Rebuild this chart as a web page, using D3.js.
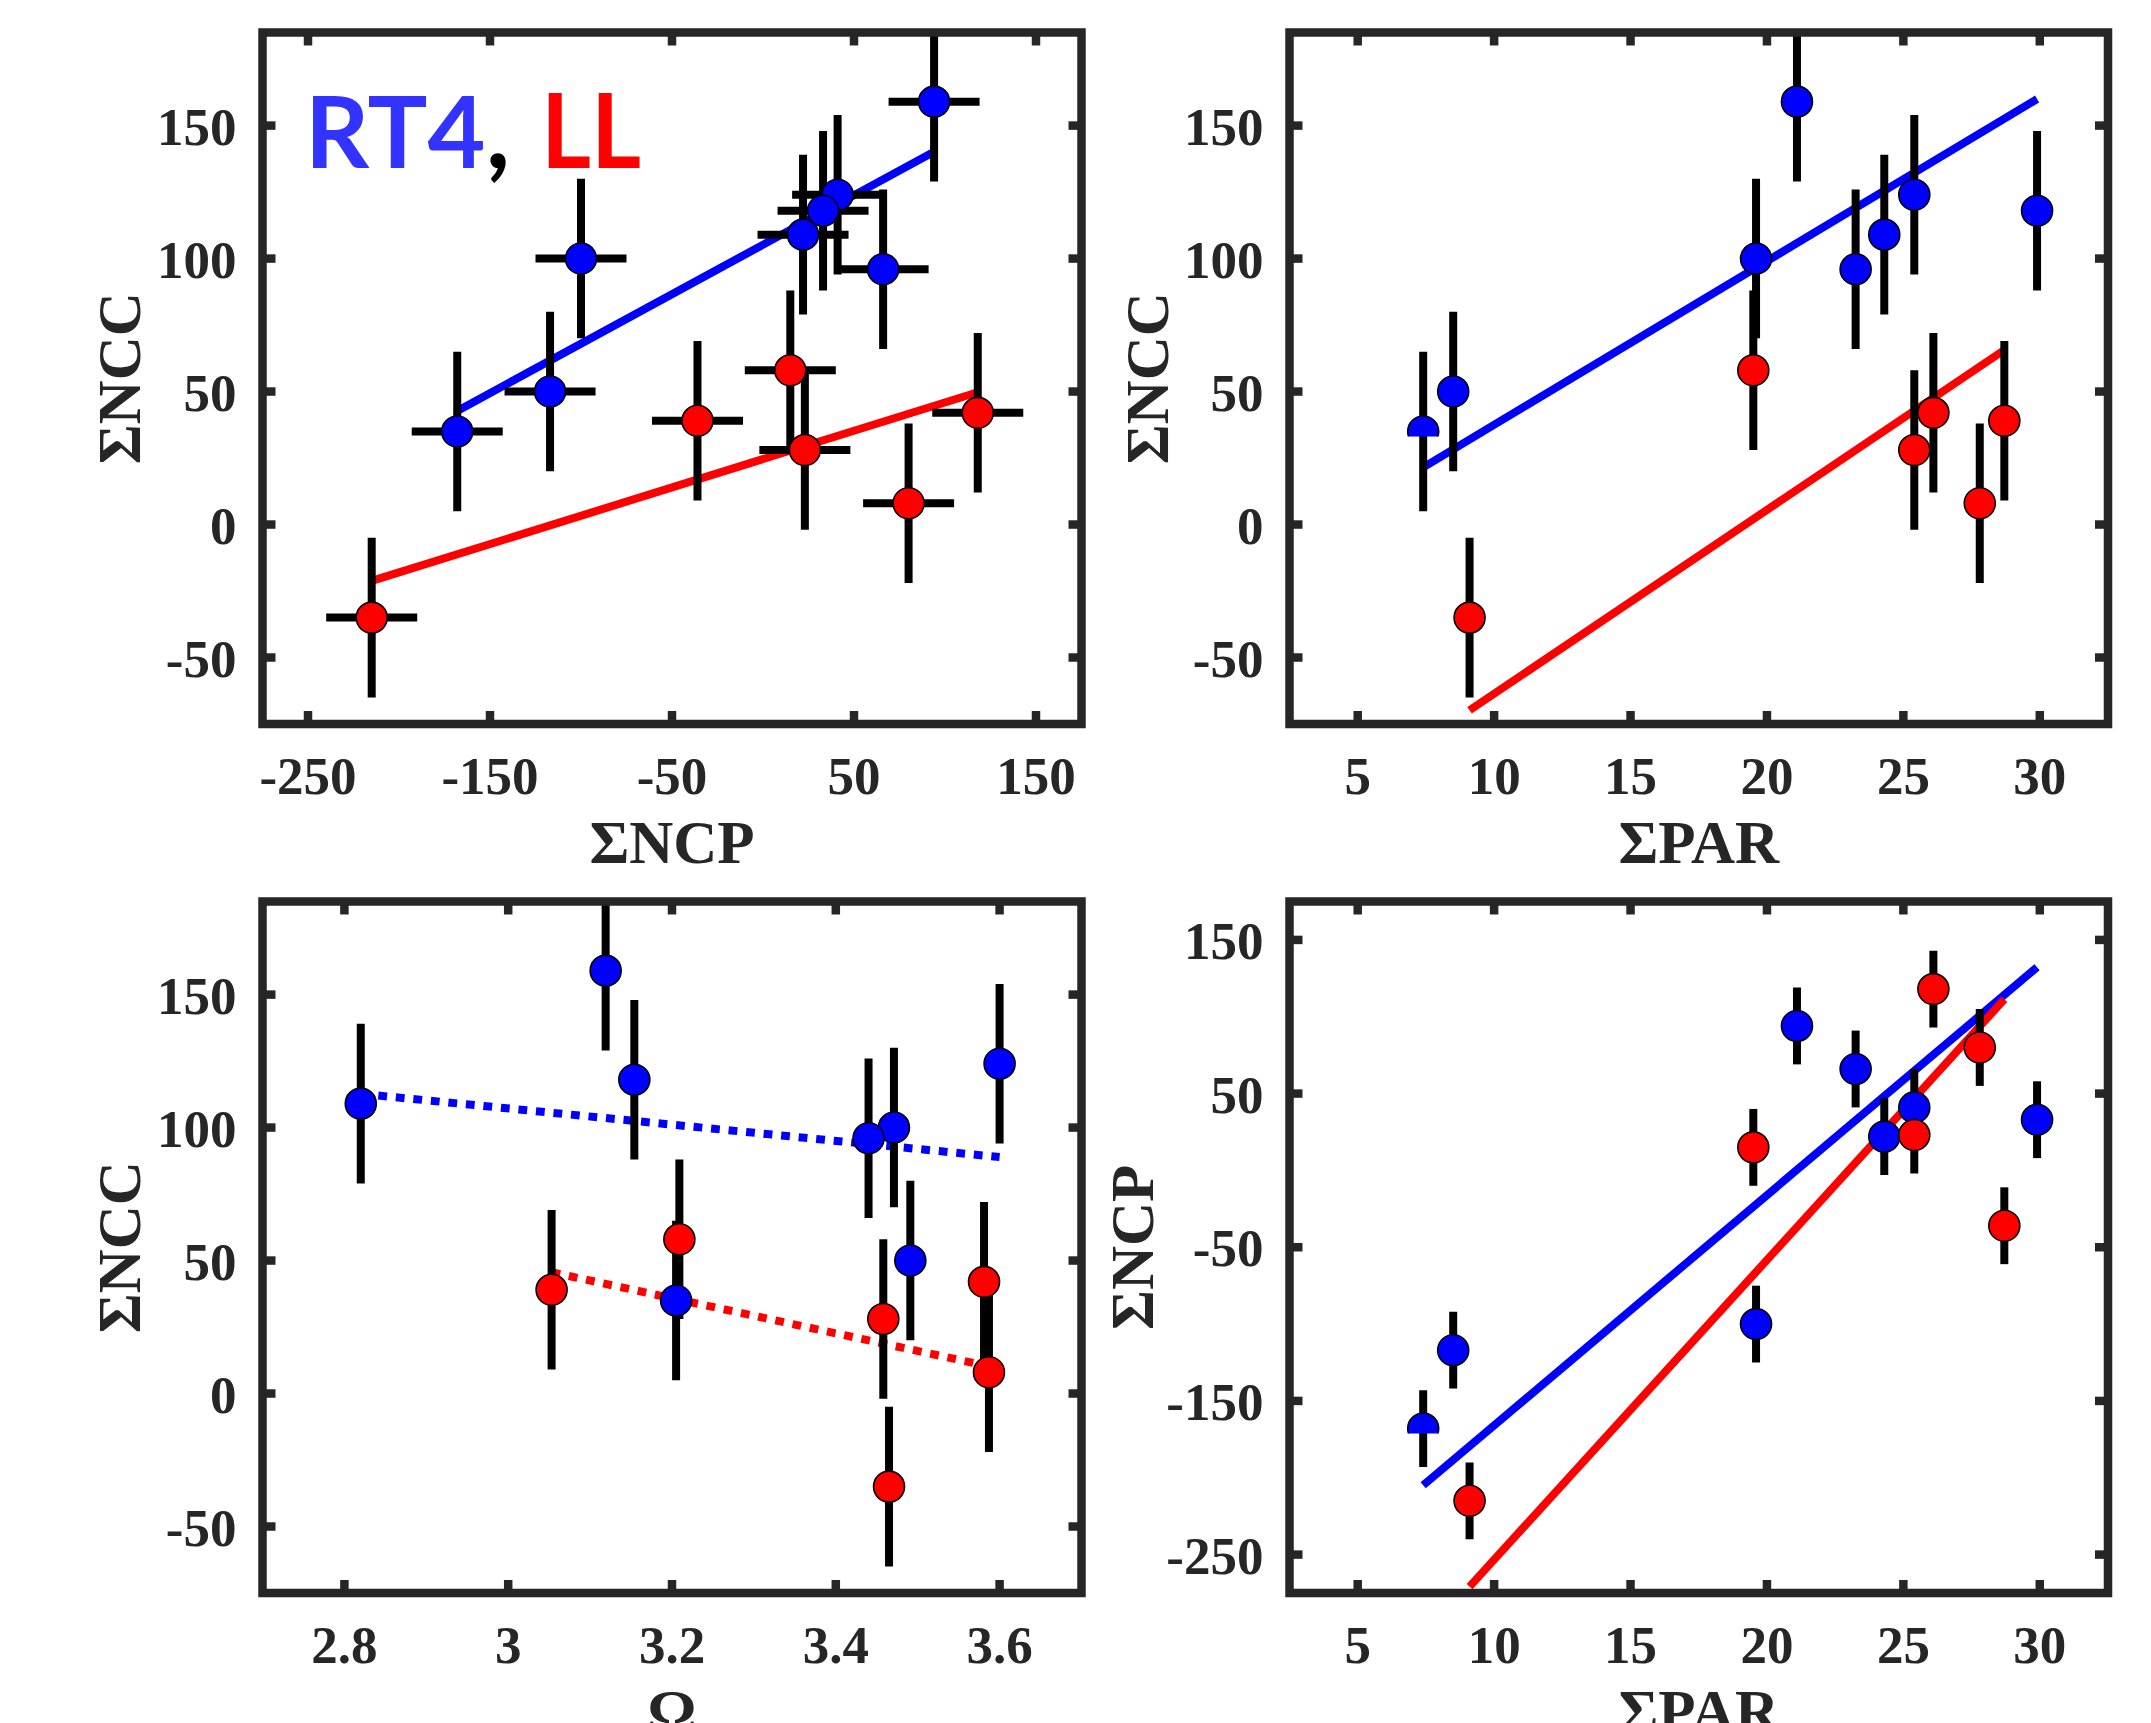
<!DOCTYPE html>
<html>
<head>
<meta charset="utf-8">
<script src="https://cdn.jsdelivr.net/npm/d3@7/dist/d3.min.js"></script>
<style>
  html, body { margin: 0; padding: 0; background: #fff; }
  svg { display: block; }
</style>
</head>
<body>
<svg id="fig" width="2151" height="1723"></svg>
<script>
// RT4 samples (blue)
const rt4PAR   = [7.4, 8.5, 19.6, 21.1, 23.25, 24.3, 25.4, 29.9];
const rt4NCP   = [-168, -117, -100, 94, 66, 22, 41, 33];
const rt4NCC   = [35, 50, 100, 159, 96, 109, 124, 118];
const rt4Omega = [3.205, 3.491, 3.471, 3.119, 3.44, 2.82, 3.6, 3.154];

// LL samples (red)
const llPAR   = [9.1, 19.5, 25.4, 26.1, 27.8, 28.7];
const llNCP   = [-215, 15, 23, 118, 80, -36];
const llNCC   = [-35, 58, 28, 42, 8, 39];
const llOmega = [3.465, 3.209, 3.458, 3.581, 3.587, 3.053];

// uncertainties
const NCP_ERR = 25;
const NCC_ERR = 30;

// fitted lines [slope, intercept] for panels a, b, c, d
const rt4Fits = [[0.372, 105.2], [6.156, -24.07], [-30.5, 198.7], [14.98, -315.7]];
const llFits  = [[0.213, 24.6], [6.91, -132.7], [-66.2, 247.7], [19.5, -448.3]];

// axis ticks
const ncpTicks   = [-250, -150, -50, 50, 150];
const nccTicks   = [-50, 0, 50, 100, 150];
const parTicks   = [5, 10, 15, 20, 25, 30];
const omegaTicks = [2.8, 3, 3.2, 3.4, 3.6];

const BLUE = "#0000ff", RED = "#ff0000", AX = "#262626";

const svg = d3.select("#fig");
svg.append("rect").attr("width", 2151).attr("height", 1723).attr("fill", "#fff");
const defs = svg.append("defs");

const panels = [
  { id: "a", box: [262.5, 1081.5, 32.5, 724], xDom: [-275, 175], yDom: [-75, 185],
    xTicks: ncpTicks, yTicks: nccTicks, xLab: "ΣNCP", yLab: "ΣNCC", yLabX: 140,
    rt4: [rt4NCP, rt4NCC], ll: [llNCP, llNCC], xErr: NCP_ERR, yErr: NCC_ERR, fit: 0, dotted: false },
  { id: "b", box: [1289.5, 2108, 32.5, 724], xDom: [2.5, 32.5], yDom: [-75, 185],
    xTicks: parTicks, yTicks: nccTicks, xLab: "ΣPAR", yLab: "ΣNCC", yLabX: 1167.5,
    rt4: [rt4PAR, rt4NCC], ll: [llPAR, llNCC], xErr: 0, yErr: NCC_ERR, fit: 1, dotted: false, half: true },
  { id: "c", box: [262.5, 1081.5, 901.5, 1593], xDom: [2.7, 3.7], yDom: [-75, 185],
    xTicks: omegaTicks, yTicks: nccTicks, xLab: "Ω", yLab: "ΣNCC", yLabX: 140,
    rt4: [rt4Omega, rt4NCC], ll: [llOmega, llNCC], xErr: 0, yErr: NCC_ERR, fit: 2, dotted: true },
  { id: "d", box: [1289.5, 2108, 901.5, 1593], xDom: [2.5, 32.5], yDom: [-275, 175],
    xTicks: parTicks, yTicks: ncpTicks, xLab: "ΣPAR", yLab: "ΣNCP", yLabX: 1153,
    rt4: [rt4PAR, rt4NCP], ll: [llPAR, llNCP], xErr: 0, yErr: NCP_ERR, fit: 3, dotted: false, half: true }
];

const serif = "'Liberation Serif', 'Times New Roman', serif";

panels.forEach(p => {
  const [x0, x1, y0, y1] = p.box;
  const x = d3.scaleLinear().domain(p.xDom).range([x0, x1]);
  const y = d3.scaleLinear().domain(p.yDom).range([y1, y0]);

  defs.append("clipPath").attr("id", "clip-" + p.id)
    .append("rect").attr("x", x0).attr("y", y0).attr("width", x1 - x0).attr("height", y1 - y0);

  const g = svg.append("g").attr("clip-path", `url(#clip-${p.id})`);

  // fitted lines spanning each series' range
  const series = [
    { xs: p.rt4[0], ys: p.rt4[1], color: BLUE, fit: rt4Fits[p.fit], name: "rt4" },
    { xs: p.ll[0],  ys: p.ll[1],  color: RED,  fit: llFits[p.fit],  name: "ll" }
  ];
  series.forEach(s => {
    const lo = d3.min(s.xs), hi = d3.max(s.xs);
    const [m, b] = s.fit;
    const line = d3.line().x(d => x(d)).y(d => y(m * d + b));
    g.append("path").datum([lo, hi]).attr("d", line)
      .attr("fill", "none").attr("stroke", s.color).attr("stroke-width", 8)
      .attr("stroke-dasharray", p.dotted ? "8.8 8.8" : null);
  });

  // error bars
  series.forEach(s => {
    s.xs.forEach((xv, i) => {
      const yv = s.ys[i];
      g.append("line").attr("x1", x(xv)).attr("x2", x(xv))
        .attr("y1", y(yv - p.yErr)).attr("y2", y(yv + p.yErr))
        .attr("stroke", "#000").attr("stroke-width", 8);
      if (p.xErr) {
        g.append("line").attr("x1", x(xv - p.xErr)).attr("x2", x(xv + p.xErr))
          .attr("y1", y(yv)).attr("y2", y(yv))
          .attr("stroke", "#000").attr("stroke-width", 8);
      }
    });
  });

  // markers
  series.forEach(s => {
    s.xs.forEach((xv, i) => {
      const cx = x(xv), cy = y(s.ys[i]);
      const c = g.append("circle").attr("cx", cx).attr("cy", cy).attr("r", 15.5)
        .attr("fill", s.color).attr("stroke", "#000").attr("stroke-width", 1.6);
      // lowest-PAR RT4 marker shows only its upper part
      if (p.half && s.name === "rt4" && i === 0) {
        const cid = "half-" + p.id;
        defs.append("clipPath").attr("id", cid)
          .append("rect").attr("x", cx - 20).attr("y", cy - 20).attr("width", 40).attr("height", 25);
        c.attr("clip-path", `url(#${cid})`);
      }
    });
  });

  // box
  svg.append("rect").attr("x", x0).attr("y", y0).attr("width", x1 - x0).attr("height", y1 - y0)
    .attr("fill", "none").attr("stroke", AX).attr("stroke-width", 8.5);

  // ticks on all four sides (inward)
  const T = 13;
  p.xTicks.forEach(t => {
    const xp = x(t);
    svg.append("line").attr("x1", xp).attr("x2", xp).attr("y1", y1).attr("y2", y1 - T)
      .attr("stroke", AX).attr("stroke-width", 8.5);
    svg.append("line").attr("x1", xp).attr("x2", xp).attr("y1", y0).attr("y2", y0 + T)
      .attr("stroke", AX).attr("stroke-width", 8.5);
    svg.append("text").attr("x", xp).attr("y", y1 + 69.5)
      .attr("text-anchor", "middle").attr("font-family", serif).attr("font-weight", "bold")
      .attr("font-size", 53).attr("fill", AX).text(String(t));
  });
  p.yTicks.forEach(t => {
    const yp = y(t);
    svg.append("line").attr("x1", x0).attr("x2", x0 + T).attr("y1", yp).attr("y2", yp)
      .attr("stroke", AX).attr("stroke-width", 8.5);
    svg.append("line").attr("x1", x1).attr("x2", x1 - T).attr("y1", yp).attr("y2", yp)
      .attr("stroke", AX).attr("stroke-width", 8.5);
    svg.append("text").attr("x", x0 - 26).attr("y", yp + 19)
      .attr("text-anchor", "end").attr("font-family", serif).attr("font-weight", "bold")
      .attr("font-size", 53).attr("fill", AX).text(String(t));
  });

  // axis labels
  svg.append("text").attr("x", (x0 + x1) / 2).attr("y", y1 + 139)
    .attr("text-anchor", "middle").attr("font-family", serif).attr("font-weight", "bold")
    .attr("font-size", 61).attr("fill", AX).text(p.xLab);
  svg.append("text")
    .attr("transform", `translate(${p.yLabX},${(y0 + y1) / 2}) rotate(-90)`)
    .attr("text-anchor", "middle").attr("font-family", serif).attr("font-weight", "bold")
    .attr("font-size", 61).attr("fill", AX).text(p.yLab);
});

// series legend text: one line, coloured per series
const leg = svg.append("text").attr("y", 168)
  .attr("font-family", "Lato, 'Open Sans', sans-serif").attr("font-weight", "bold").attr("font-size", 103);
leg.append("tspan").attr("x", 305).attr("fill", "#3333ff").attr("font-size", 100).text("RT4");
leg.append("tspan").attr("x", 486).attr("fill", "#000").text(",");
leg.append("tspan").attr("x", 541).attr("fill", RED)
  .attr("textLength", 100).attr("lengthAdjust", "spacingAndGlyphs").text("LL");
</script>
</body>
</html>
